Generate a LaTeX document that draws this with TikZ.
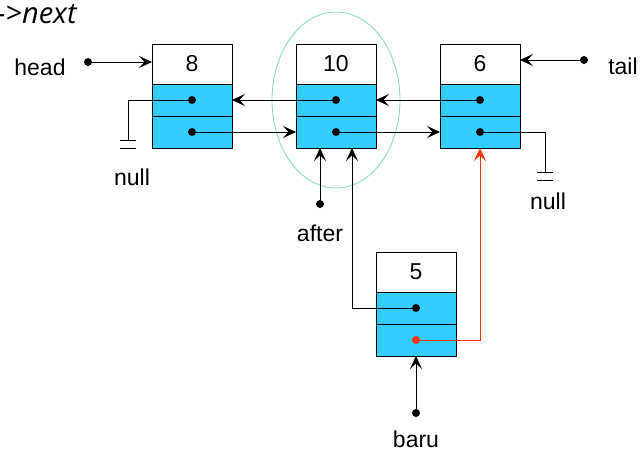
\documentclass[tikz,border=0pt]{standalone}
\usepackage{fontspec}
\setmainfont{Liberation Sans}
\newfontfamily\notefont{Open Sans}
\usetikzlibrary{positioning,arrows.meta}

\definecolor{cellblue}{RGB}{51,204,255}
\definecolor{ringgreen}{RGB}{128,216,200}
\definecolor{newred}{RGB}{255,51,0}

\begin{document}
\begin{tikzpicture}[
		x=1pt,
		y=-1pt,
		font=\fontsize{23}{27}\selectfont,
		line width=0.8pt,
		datacell/.style={draw, fill=white, minimum width=80pt, minimum height=40pt, inner sep=0pt, outer sep=0pt},
		ptrcell/.style={draw, fill=cellblue, minimum width=80pt, minimum height=32pt, inner sep=0pt, outer sep=0pt},
		ptr/.style={-{Stealth[length=13pt,width=12pt,inset=5.5pt]}, line width=0.8pt},
		link/.style={line width=0.8pt},
		dot/.style={circle, fill, inner sep=0pt, minimum size=8pt}
	]

		\useasboundingbox (0,0) rectangle (643,451);

		% title
		\node[anchor=base west, inner sep=0pt, font=\notefont\itshape\fontsize{29}{34}\selectfont] (title) at (-4,23) {->next};

		% node 8
		\node[datacell] (n8) at (192,64) {8};
		\node[ptrcell, below=0pt of n8] (n8p) {};
		\node[ptrcell, below=0pt of n8p] (n8n) {};

		% node 10
		\node[datacell] (n10) at (336,64) {10};
		\node[ptrcell, below=0pt of n10] (n10p) {};
		\node[ptrcell, below=0pt of n10p] (n10n) {};

		% node 6
		\node[datacell] (n6) at (480,64) {6};
		\node[ptrcell, below=0pt of n6] (n6p) {};
		\node[ptrcell, below=0pt of n6p] (n6n) {};

		% node 5 (baru)
		\node[datacell] (n5) at (416,272) {5};
		\node[ptrcell, below=0pt of n5] (n5p) {};
		\node[ptrcell, below=0pt of n5p] (n5n) {};

		% ring round node 10
		\draw[ringgreen] (336,100) ellipse [x radius=64pt, y radius=88pt];

		% labels
		\node (head) at (40,67) {head};
		\node (tail) at (623,66) {tail};
		\node (nullL) at (132,177) {null};
		\node (nullR) at (548,201) {null};
		\node (after) at (320,233) {after};
		\node (baru) at (416,439) {baru};

		% head, tail, after, baru
		\node[dot] (hd) at (88,62) {};
		\draw[ptr] (hd) -- (hd -| n8.west);
		\node[dot] (tl) at (584,60) {};
		\draw[ptr] (tl) -- (tl -| n6.east);
		\node[dot] (af) at (320,204) {};
		\draw[ptr] (af) -- (af |- n10n.south);
		\node[dot] (br) at (416,413) {};
		\draw[ptr] (br) -- (n5n.south);

		% prev links
		\node[dot] (p8) at (n8p.center) {};
		\node[dot] (p10) at (n10p.center) {};
		\node[dot] (p6) at (n6p.center) {};
		\node[dot] (p5) at (n5p.center) {};
		\draw[ptr] (p10) -- (n8p.east);
		\draw[ptr] (p6) -- (n10p.east);
		\coordinate (gndL) at (128,140);
		\draw[link] (p8) -| (gndL);
		\draw[link] (120,140) -- (136,140) (120,148) -- (136,148);
		\coordinate (upA) at (352,148);
		\draw[ptr] (p5) -| (upA);

		% next links
		\node[dot] (q8) at (n8n.center) {};
		\node[dot] (q10) at (n10n.center) {};
		\node[dot] (q6) at (n6n.center) {};
		\node[dot, newred] (q5) at (n5n.center) {};
		\draw[ptr] (q8) -- (n10n.west);
		\draw[ptr] (q10) -- (n6n.west);
		\coordinate (gndR) at (545,172);
		\draw[link] (q6) -| (gndR);
		\draw[link] (537,172) -- (553,172) (537,180) -- (553,180);
		\draw[ptr, newred] (q5) -| (n6n.south);

	\end{tikzpicture}
\end{document}
